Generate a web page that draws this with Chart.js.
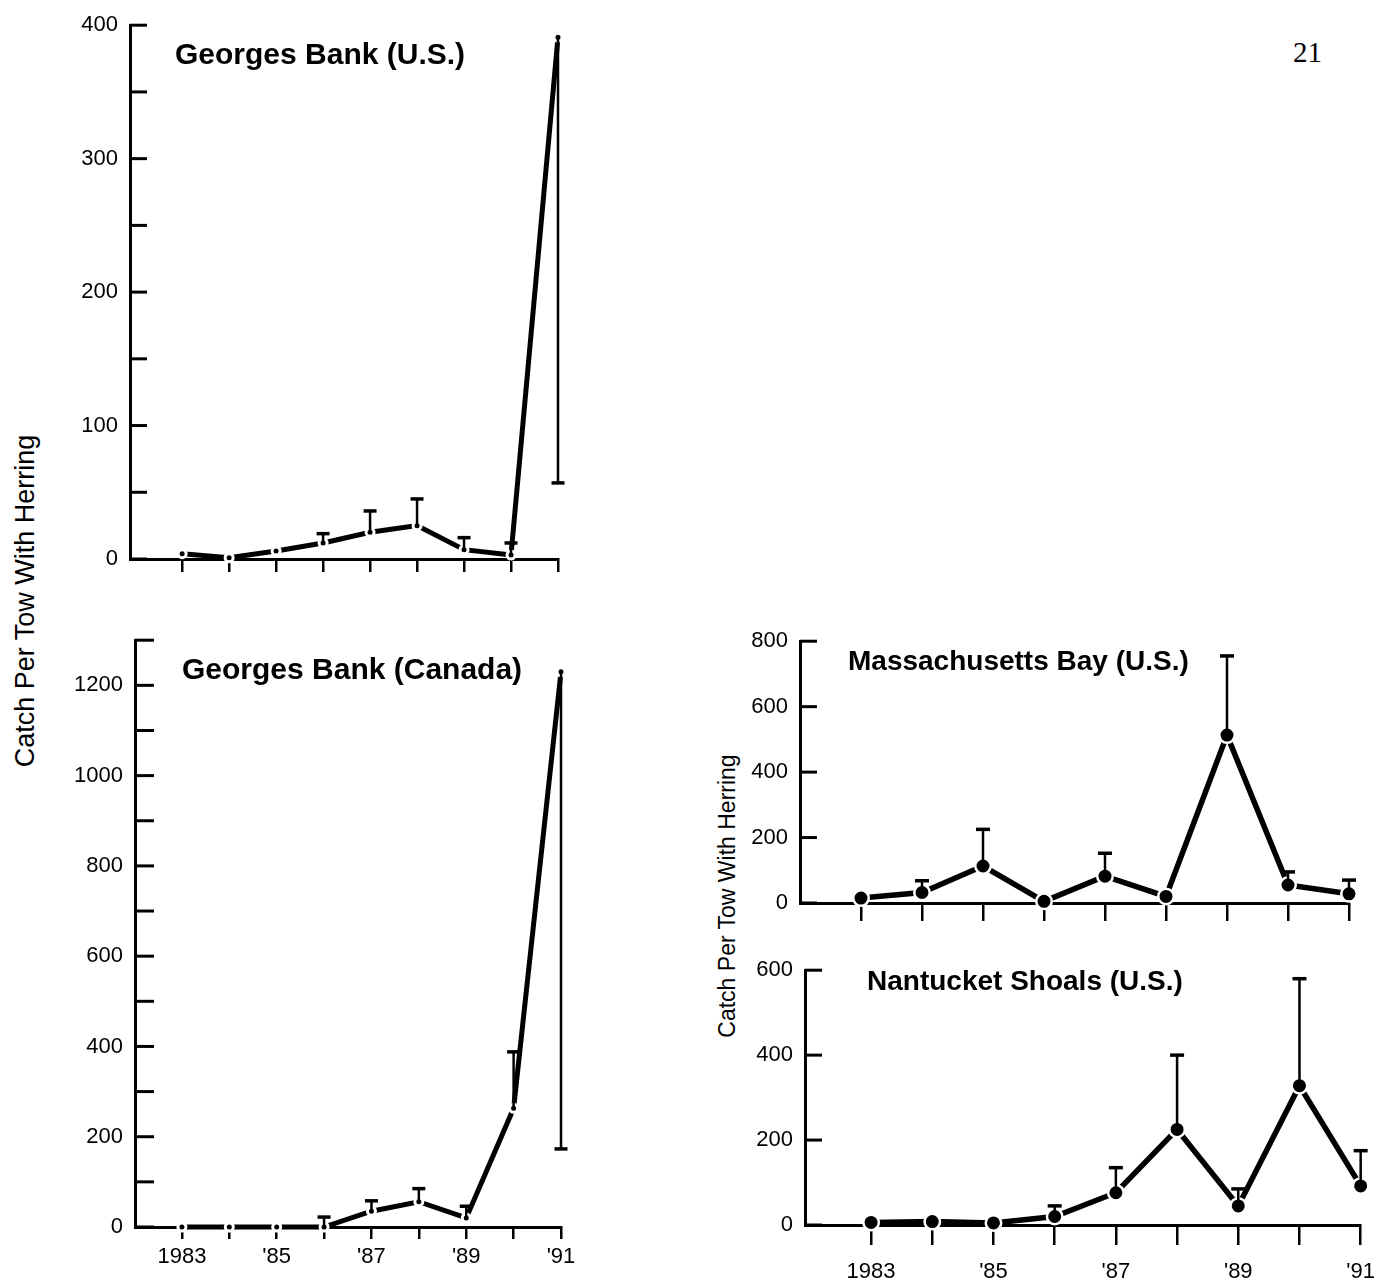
<!DOCTYPE html>
<html><head><meta charset="utf-8">
<script src="https://cdn.jsdelivr.net/npm/chart.js@4.4.0/dist/chart.umd.min.js"></script>
<style>
html,body{margin:0;padding:0;background:#fff;}
body{width:1391px;height:1283px;position:relative;overflow:hidden;font-family:"Liberation Sans",Arial,sans-serif;color:#000;}
.w{position:absolute;}
.t{position:absolute;font-weight:bold;line-height:1;white-space:nowrap;}
.yt{position:absolute;white-space:nowrap;line-height:1;transform:translate(-50%,-50%) rotate(-90deg);}
</style></head><body>
<div class="w" id="w1" style="left:60px;top:0px;width:528px;height:599px"><canvas id="p1"></canvas></div>
<div class="w" id="w2" style="left:60px;top:615px;width:531px;height:667px"><canvas id="p2"></canvas></div>
<div class="w" id="w3" style="left:740px;top:616px;width:639px;height:327px"><canvas id="p3"></canvas></div>
<div class="w" id="w4" style="left:745px;top:945px;width:644px;height:338px"><canvas id="p4"></canvas></div>

<div class="t" style="left:175px;top:39px;font-size:30px">Georges Bank (U.S.)</div>
<div class="t" style="left:182px;top:654px;font-size:30px">Georges Bank (Canada)</div>
<div class="t" style="left:848px;top:647px;font-size:28px">Massachusetts Bay (U.S.)</div>
<div class="t" style="left:867px;top:967px;font-size:28px">Nantucket Shoals (U.S.)</div>
<div style="position:absolute;left:1293px;top:38px;font-family:'Liberation Serif',serif;font-size:29px;line-height:1">21</div>
<div class="yt" style="left:25px;top:601px;font-size:27px">Catch Per Tow With Herring</div>
<div class="yt" style="left:727px;top:896px;font-size:23px">Catch Per Tow With Herring</div>

<script>
const FONT = '"Liberation Sans", Arial, sans-serif';
const years = [1983, 1984, 1985, 1986, 1987, 1988, 1989, 1990, 1991];
const yearLabels = {1983: '1983', 1985: "'85", 1987: "'87", 1989: "'89", 1991: "'91"};

// Georges Bank (U.S.)
const gbUS = [4, 1, 6, 12, 20, 25, 7, 3, 391];
const gbUSErr = [null, null, null, 19, 36, 45, 16, 12, 57];
// Georges Bank (Canada)
const gbCA = [0, 0, 0, 0, 35, 56, 20, 263, 1230];
const gbCAErr = [null, null, null, 22, 58, 85, 46, 388, 173];
// Massachusetts Bay (U.S.)
const massBay = [15, 32, 113, 5, 82, 20, 513, 55, 28];
const massBayErr = [null, 68, 225, null, 152, null, 755, 95, 70];
// Nantucket Shoals (U.S.)
const nantucket = [6, 8, 5, 20, 76, 225, 45, 328, 92];
const nantucketErr = [null, null, null, 45, 135, 400, 85, 580, 175];

function innerTicks(len) {
  return {
    id: 'innerTicks',
    beforeDatasetsDraw(chart) {
      const ys = chart.scales.y, ctx = chart.ctx, left = chart.chartArea.left;
      ctx.save();
      ctx.strokeStyle = '#000';
      ctx.lineWidth = 3;
      ys.ticks.forEach(t => {
        const y = ys.getPixelForValue(t.value);
        ctx.beginPath(); ctx.moveTo(left, y); ctx.lineTo(left + len, y); ctx.stroke();
      });
      ctx.restore();
    }
  };
}

function errorBars(st) {
  return {
    id: 'errorBars',
    afterDatasetsDraw(chart) {
      const ds = chart.data.datasets[0];
      const xs = chart.scales.x, ys = chart.scales.y, ctx = chart.ctx;
      ctx.save();
      ctx.strokeStyle = '#000';
      ctx.lineCap = 'butt';
      ds.errEnd.forEach((e, i) => {
        if (e === null) return;
        const p = ds.data[i];
        const x = xs.getPixelForValue(p.x);
        const y0 = ys.getPixelForValue(p.y);
        const y1 = ys.getPixelForValue(e);
        ctx.lineWidth = st.ew;
        ctx.beginPath(); ctx.moveTo(x, y0); ctx.lineTo(x, y1); ctx.stroke();
        ctx.lineWidth = st.capW;
        ctx.beginPath(); ctx.moveTo(x - st.cap / 2, y1); ctx.lineTo(x + st.cap / 2, y1); ctx.stroke();
      });
      ctx.restore();
    }
  };
}

function makePanel(id, g, vals, errs, st) {
  const pts = years.map((yr, i) => ({x: yr, y: vals[i]}));
  return new Chart(document.getElementById(id), {
    type: 'line',
    data: {datasets: [{
      data: pts, errEnd: errs,
      borderColor: '#000', borderWidth: st.lw,
      pointRadius: st.pr, pointBackgroundColor: '#000',
      pointBorderColor: '#fff', pointBorderWidth: st.pb,
      clip: false, tension: 0, fill: false
    }]},
    options: {
      responsive: true, maintainAspectRatio: false, animation: false,
      layout: {padding: {top: g.padTop, right: g.padRight, left: 0, bottom: 0}},
      plugins: {legend: {display: false}, tooltip: {enabled: false}},
      scales: {
        x: {
          type: 'linear', min: g.xmin, max: 1991,
          afterBuildTicks: s => { s.ticks = years.map(v => ({value: v})); },
          afterFit: s => { s.height = g.xh; },
          grid: {display: true, drawOnChartArea: false, drawTicks: true, tickLength: st.xtl, color: '#000', lineWidth: 2.5},
          border: {display: true, color: '#000', width: 3},
          ticks: {autoSkip: false, maxRotation: 0, padding: st.xpad, color: '#000',
                  font: {family: FONT, size: 22},
                  callback: v => st.xlabels ? (yearLabels[v] || '') : ''}
        },
        y: {
          type: 'linear', min: 0, max: g.ymax,
          afterFit: s => { s.width = g.yw; },
          grid: {display: false, drawTicks: false},
          border: {display: true, color: '#000', width: 3},
          ticks: {stepSize: g.step, padding: 12, color: '#000',
                  font: {family: FONT, size: 22},
                  callback: v => (v % g.labelEvery === 0 ? String(v) : '')}
        }
      }
    },
    plugins: [innerTicks(st.ytl), errorBars(st)]
  });
}

const smallStyle = {lw: 5, pr: 4, pb: 3, ew: 2.5, capW: 3.5, cap: 13, ytl: 17};
const bigStyle = {lw: 5.5, pr: 7.75, pb: 2.5, ew: 2.5, capW: 3.5, cap: 14, ytl: 17};

makePanel('p1', {padTop: 20, padRight: 30, yw: 70, xh: 40, xmin: 1981.89, ymax: 400, step: 50, labelEvery: 100},
  gbUS, gbUSErr, Object.assign({}, smallStyle, {xtl: 13, xpad: 6, xlabels: false}));
makePanel('p2', {padTop: 20, padRight: 30, yw: 75, xh: 55, xmin: 1982.01, ymax: 1300, step: 100, labelEvery: 200},
  gbCA, gbCAErr, Object.assign({}, smallStyle, {xtl: 12, xpad: 5, xlabels: true, ytl: 19}));
makePanel('p3', {padTop: 20, padRight: 30, yw: 60, xh: 40, xmin: 1982, ymax: 800, step: 200, labelEvery: 200},
  massBay, massBayErr, Object.assign({}, bigStyle, {xtl: 18, xpad: 6, xlabels: false}));
makePanel('p4', {padTop: 20, padRight: 28, yw: 60, xh: 58, xmin: 1981.92, ymax: 600, step: 200, labelEvery: 200},
  nantucket, nantucketErr, Object.assign({}, bigStyle, {xtl: 20, xpad: 14, xlabels: true}));
</script>
</body></html>
